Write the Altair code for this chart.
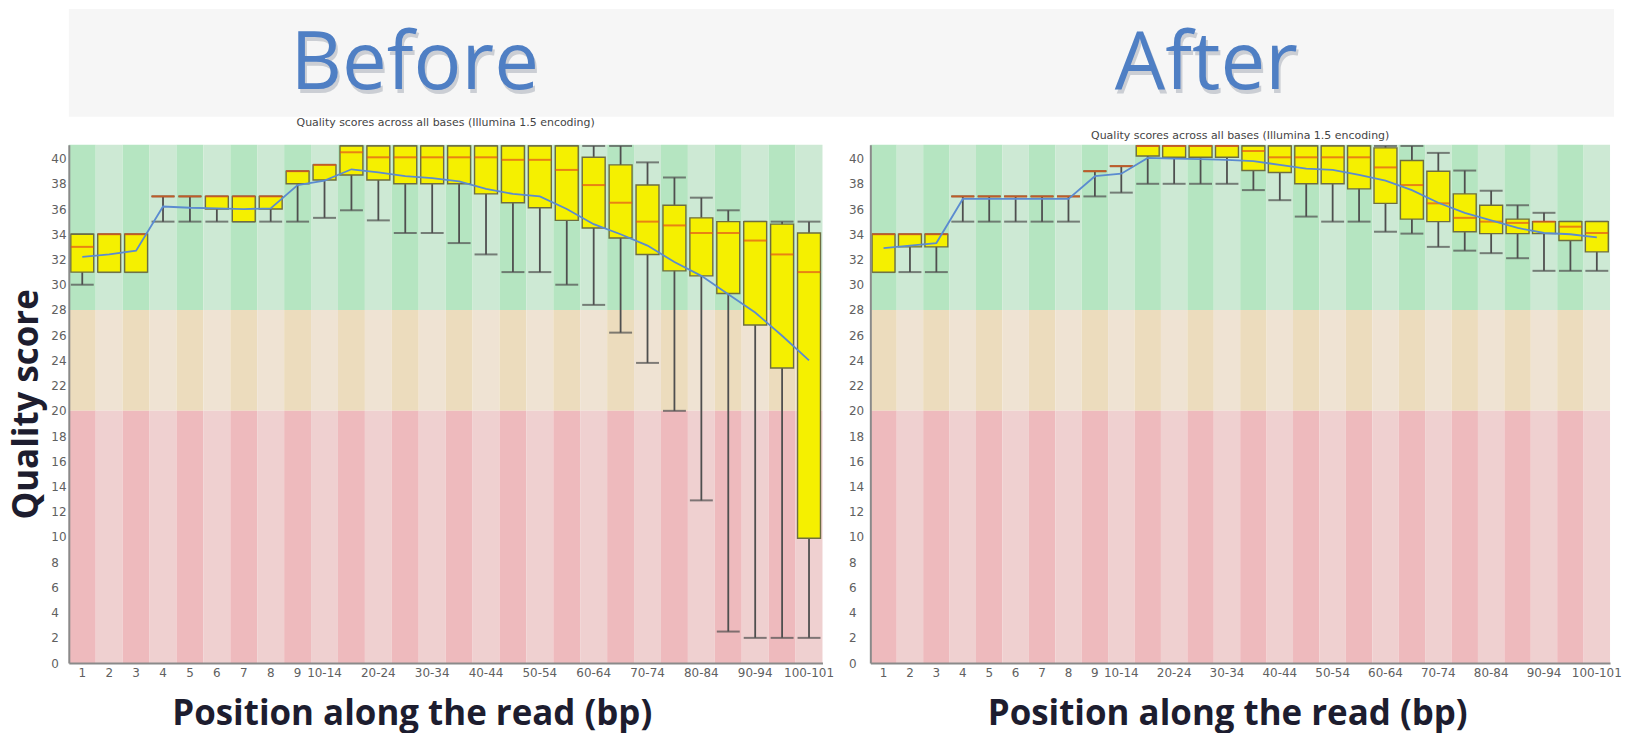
import altair as alt
import pandas as pd

# ---------------- data ----------------
positions = ["1", "2", "3", "4", "5", "6", "7", "8", "9", "10-14", "15-19", "20-24",
             "25-29", "30-34", "35-39", "40-44", "45-49", "50-54", "55-59", "60-64",
             "65-69", "70-74", "75-79", "80-84", "85-89", "90-94", "95-99", "100-101"]
shown_positions = ["1", "2", "3", "4", "5", "6", "7", "8", "9", "10-14", "20-24", "30-34",
                   "40-44", "50-54", "60-64", "70-74", "80-84", "90-94", "100-101"]
y_ticks = list(range(0, 41, 2))
y_max = 41.1

headings = ["Before", "After"]
subtitle = "Quality scores across all bases (Illumina 1.5 encoding)"
x_title = "Position along the read (bp)"
y_title = "Quality score"

# quality zones (lower, upper)
zone_names = ["good", "reasonable", "poor"]
zone_lo = [28, 20, 0]
zone_hi = [y_max, 28, 20]

# Before trimming: 10th pct, Q1, median, Q3, 90th pct, mean
before_low = [30, 31, 31, 35, 35, 35, 35, 35, 35, 35.3, 35.9, 35.1, 34.1, 34.1, 33.3,
              32.4, 31.0, 31.0, 30.0, 28.4, 26.2, 23.8, 20.0, 12.9, 2.5, 2.0, 2.0, 2.0]
before_q1 = [31, 31, 31, 37, 37, 36, 35, 36, 38, 38.3, 38.7, 38.3, 38.0, 38.0, 38.0,
             37.2, 36.5, 36.1, 35.1, 34.5, 33.7, 32.4, 31.1, 30.7, 29.3, 26.8, 23.4, 9.9]
before_med = [33, 34, 34, 37, 37, 37, 37, 37, 39, 39.5, 40.5, 40.1, 40.1, 40.1, 40.1,
              40.1, 39.9, 39.9, 39.1, 37.9, 36.5, 35.0, 34.7, 34.1, 34.1, 33.5, 32.4, 31.0]
before_q3 = [34, 34, 34, 37, 37, 37, 37, 37, 39, 39.5, 41, 41, 41, 41, 41,
             41, 41, 41, 41, 40.1, 39.5, 37.9, 36.3, 35.3, 35.0, 35.0, 34.8, 34.1]
before_high = [34, 34, 34, 37, 37, 37, 37, 37, 39, 39.5, 41, 41, 41, 41, 41,
               41, 41, 41, 41, 41, 41, 39.7, 38.5, 36.9, 35.9, 35.0, 35.0, 35.0]
before_mean = [32.2, 32.4, 32.7, 36.2, 36.1, 36.05, 36.0, 36.05, 37.9, 38.25, 39.15, 38.9,
               38.6, 38.45, 38.2, 37.6, 37.2, 37.0, 36.0, 34.8, 34.0, 33.1, 31.8, 30.7,
               29.25, 27.8, 25.95, 24.0]

# After trimming
after_low = [31, 31, 31, 35, 35, 35, 35, 35, 37, 37.3, 38, 38, 38, 38, 37.5,
             36.7, 35.4, 35.0, 35.0, 34.2, 34.05, 33.0, 32.7, 32.5, 32.1, 31.1, 31.1, 31.1]
after_q1 = [31, 33, 33, 37, 37, 37, 37, 37, 39, 39.4, 40.2, 40.1, 40.1, 40.1, 39.05,
            38.9, 38.0, 38.0, 37.6, 36.45, 35.2, 35.0, 34.2, 34.05, 34.05, 34.05, 33.5, 32.6]
after_med = [34, 34, 34, 37, 37, 37, 37, 37, 39, 39.4, 41, 41, 41, 41, 40.6,
             40.1, 40.1, 40.1, 40.1, 39.3, 37.9, 36.45, 35.3, 35.0, 34.9, 35.0, 34.6, 34.1]
after_q3 = [34, 34, 34, 37, 37, 37, 37, 37, 39, 39.4, 41, 41, 41, 41, 41,
            41, 41, 41, 41, 40.85, 39.85, 39.0, 37.2, 36.3, 35.2, 35.0, 35.0, 35.0]
after_high = [34, 34, 34, 37, 37, 37, 37, 37, 39, 39.4, 41, 41, 41, 41, 41,
              41, 41, 41, 41, 41, 41, 40.45, 39.05, 37.45, 36.3, 35.7, 35.0, 35.0]
after_mean = [32.9, 33.1, 33.3, 36.8, 36.8, 36.8, 36.8, 36.8, 38.6, 38.8, 40.05, 40.0,
              39.95, 39.9, 39.8, 39.5, 39.2, 39.1, 38.7, 38.25, 37.5, 36.5, 35.7, 35.1,
              34.5, 34.1, 34.0, 33.75]

# ---------------- styles ----------------
ZONE_FILL = {"good": ["#b5e5c1", "#cde9d4"],
             "reasonable": ["#ecdcbd", "#efe3d3"],
             "poor": ["#eebabd", "#efd0d0"]}
AXIS_GREY = "#8a8a8a"
LABEL_GREY = "#606060"
DARK = "#1d1d2f"
WHISKER = "#4f4f4f"
BOX_FILL = "#f5f000"
BOX_STROKE = "#6e6e40"
MEDIAN = "#e2541b"
MEAN = "#5b8bd0"
HEAD_BLUE = "#4f7fc4"


def panel(low, q1, med, q3, high, mean, *, width, height, sub_offset,
          ytitle, xtitle_pad, xtitle_x, label_pad, box_w):
    stats = pd.DataFrame({"pos": positions, "low": low, "q1": q1, "med": med,
                          "q3": q3, "high": high, "mean": mean})
    rows = []
    for i, p in enumerate(positions):
        for z, lo, hi in zip(zone_names, zone_lo, zone_hi):
            rows.append({"pos": p, "lo": lo, "hi": hi, "fill": ZONE_FILL[z][i % 2]})
    bands = pd.DataFrame(rows)

    xs = alt.Scale(domain=positions, paddingInner=0, paddingOuter=0)
    ys = alt.Scale(domain=[0, y_max], nice=False, zero=False)

    x_axis = alt.Axis(values=shown_positions, labelAngle=0, ticks=False, grid=False,
                      domainColor=AXIS_GREY, domainWidth=2, labelColor=LABEL_GREY,
                      labelFont="DejaVu Sans", labelFontSize=12, labelPadding=4,
                      title=x_title, titleFont="Open Sans", titleFontSize=35,
                      titleFontWeight="bold", titleColor=DARK, titlePadding=xtitle_pad,
                      titleX=xtitle_x, zindex=1)
    ykw = dict(values=y_ticks, ticks=False, grid=False, domainColor=AXIS_GREY,
               domainWidth=2, labelAlign="left", labelPadding=label_pad,
               labelColor=LABEL_GREY, labelFont="DejaVu Sans", labelFontSize=12,
               zindex=1)
    if ytitle:
        y_axis = alt.Axis(title=ytitle, titleFont="Open Sans", titleFontSize=35,
                          titleFontWeight="bold", titleColor=DARK, titlePadding=6, **ykw)
    else:
        y_axis = alt.Axis(title=None, **ykw)

    xe = alt.X("pos:O", scale=xs, axis=x_axis)

    def ye(field):
        return alt.Y(field, scale=ys, axis=y_axis)

    bg = alt.Chart(bands).mark_rect().encode(
        x=xe, y=ye("lo:Q"), y2="hi:Q",
        color=alt.Color("fill:N", scale=None),
    )
    base = alt.Chart(stats)
    whisk = base.mark_rule(color=WHISKER, strokeWidth=1.8).encode(
        x=xe, y=ye("low:Q"), y2="high:Q")
    cap_lo = base.mark_tick(color=WHISKER, thickness=2, size=box_w).encode(
        x=xe, y=ye("low:Q"))
    cap_hi = base.mark_tick(color=WHISKER, thickness=2, size=box_w).encode(
        x=xe, y=ye("high:Q"))
    box = base.mark_bar(color=BOX_FILL, stroke=BOX_STROKE, strokeWidth=1.4,
                        width=box_w).encode(x=xe, y=ye("q1:Q"), y2="q3:Q")
    median = base.mark_tick(color=MEDIAN, thickness=2, size=box_w).encode(
        x=xe, y=ye("med:Q"))
    mean_line = base.mark_line(color=MEAN, strokeWidth=1.8).encode(
        x=xe, y=ye("mean:Q"))

    return alt.layer(bg, whisk, cap_lo, cap_hi, box, median, mean_line).properties(
        width=width, height=height,
        title=alt.TitleParams(text=subtitle, font="DejaVu Sans", fontSize=11,
                              fontWeight="normal", color="#444444", anchor="middle",
                              offset=sub_offset),
    )


left = panel(before_low, before_q1, before_med, before_q3, before_high, before_mean,
             width=756, height=520, sub_offset=17, ytitle=y_title,
             xtitle_pad=19, xtitle_x=344, label_pad=18, box_w=23)
right = panel(after_low, after_q1, after_med, after_q3, after_high, after_mean,
              width=742, height=520, sub_offset=4, ytitle=None,
              xtitle_pad=19, xtitle_x=358, label_pad=22, box_w=23)

head_df = pd.DataFrame({"heading": headings})
hx = alt.X("heading:N", sort=headings, axis=None,
           scale=alt.Scale(type="point", padding=0.476))
shadow = alt.Chart(head_df).mark_text(font="Open Sans", fontSize=80, color="#7d8796",
                                      opacity=0.35, dx=-29, dy=6).encode(x=hx, text="heading:N")
main = alt.Chart(head_df).mark_text(font="Open Sans", fontSize=80, color=HEAD_BLUE,
                                    dx=-31, dy=2).encode(x=hx, text="heading:N")
banner = alt.layer(shadow, main).properties(
    width=1550, height=108,
    view=alt.ViewBackground(fill="#f6f6f6", strokeWidth=0),
)

chart = alt.vconcat(
    banner,
    alt.hconcat(left, right, spacing=14),
    spacing=0,
).properties(
    padding={"left": 2, "top": 0, "right": 0, "bottom": 0},
    background="white",
).configure_view(strokeWidth=0)

chart.save("out.html", embed_options={"renderer": "svg", "actions": False})
